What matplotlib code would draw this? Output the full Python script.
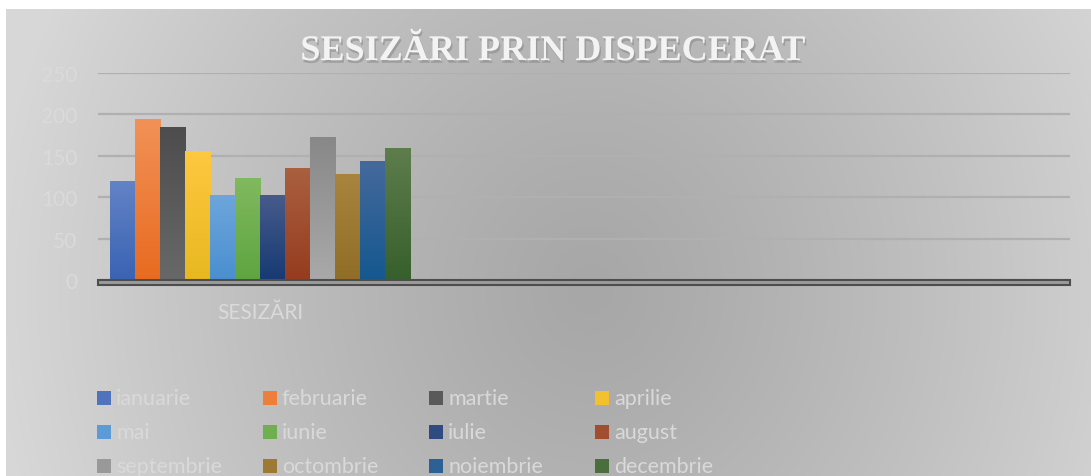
import numpy as np
import matplotlib
matplotlib.use("Agg")
import matplotlib.pyplot as plt
import matplotlib.patheffects as pe
from matplotlib.colors import LinearSegmentedColormap, to_rgb
from matplotlib.patches import Rectangle

# data
months = ["ianuarie", "februarie", "martie", "aprilie", "mai", "iunie",
          "iulie", "august", "septembrie", "octombrie", "noiembrie", "decembrie"]
values = [120, 194, 185, 156, 103, 123, 103, 135, 173, 128, 144, 160]
category = ["SESIZĂRI"]
title = "SESIZĂRI PRIN DISPECERAT"

# bar colours, top -> bottom of the gradient
top_colors = ["#6383c6", "#f29157", "#4d4d4d", "#fec840", "#6ea6dc", "#80b95f",
              "#475b8b", "#a9603f", "#888888", "#a8843e", "#46699c", "#5e7d4c"]
bot_colors = ["#3a63b3", "#e86b20", "#686868", "#e8b820", "#4a8fd0", "#5ea540",
              "#173a74", "#963c1f", "#a9a9a9", "#916e28", "#14588f", "#37602c"]

W, H = 1091, 477
fig = plt.figure(figsize=(W / 100, H / 100), dpi=100)
fig.patch.set_facecolor("white")

# background: radial grey gradient
bg = fig.add_axes([6 / W, 0, 1 - 6 / W, (H - 10) / H])
yy, xx = np.mgrid[10:H, 6:W]
r = np.sqrt(((xx - 590) / 600.0) ** 2 + ((yy - 290) / 650.0) ** 2)
shade = 0.655 + 0.19 * np.clip(r, 0, 1) ** 1.2
bg.imshow(np.dstack([shade] * 3), aspect="auto", interpolation="bilinear")
bg.axis("off")

# plot area
ax = fig.add_axes([98 / W, (H - 281) / H, 972 / W, 207 / H])
ax.patch.set_visible(False)

n = len(values)
group_width = 0.926
w = group_width / n
xs = [-group_width / 2 + w * (i + 0.5) for i in range(n)]
bars = ax.bar(xs, values, width=w, color=bot_colors, zorder=3, linewidth=0)

grad = np.linspace(0, 1, 64).reshape(-1, 1)
for rect, c_top, c_bot in zip(bars, top_colors, bot_colors):
    cmap = LinearSegmentedColormap.from_list("g", [c_bot, c_top])
    x0 = rect.get_x()
    im = ax.imshow(grad, extent=[x0, x0 + rect.get_width(), 0, rect.get_height()],
                   origin="lower", aspect="auto", cmap=cmap, zorder=4)
    im.set_clip_path(rect)

# floor under the bars
floor = ax.axhspan(-6, 0, facecolor="#9b9b9b", edgecolor="#4d4d4d", linewidth=1.5, zorder=5)
floor.set_clip_on(False)

ax.set_xlim(-0.5, 2.5)
ax.set_ylim(0, 250)
ax.set_yticks(range(0, 251, 50))
ax.yaxis.grid(True, color="#b0b0b0", linewidth=1.6, zorder=1)
ax.set_axisbelow(True)
for s in ax.spines.values():
    s.set_visible(False)

ax.set_xticks([0])
ax.set_xticklabels(category)
ax.tick_params(axis="both", length=0, labelcolor="#dadada", labelsize=15)
ax.tick_params(axis="y", pad=15)
ax.tick_params(axis="x", pad=16)
for lab in ax.get_xticklabels() + ax.get_yticklabels():
    lab.set_fontfamily("Lato")

# title
fig.text(553 / W, 1 - 61 / H, title, ha="center", va="baseline",
         fontfamily="Liberation Serif", fontweight="bold", fontsize=26,
         color="#f3f3f3",
         path_effects=[pe.withSimplePatchShadow(offset=(1, -2), shadow_rgbFace="#8a8a8a", alpha=0.6)])

# legend, 4 columns x 3 rows
for i, (name, c_top, c_bot) in enumerate(zip(months, top_colors, bot_colors)):
    row, col = divmod(i, 4)
    px = 97 + col * 166
    py = 399 + row * 34
    mid = tuple((np.array(to_rgb(c_top)) + np.array(to_rgb(c_bot))) / 2)
    fig.patches.append(Rectangle((px / W, 1 - (py + 7) / H), 14 / W, 14 / H,
                                 transform=fig.transFigure, facecolor=mid,
                                 edgecolor="none"))
    fig.text((px + 19) / W, 1 - py / H, name, ha="left", va="center",
             fontfamily="Lato", fontsize=15.5, color="#d9d9d9")

fig.savefig("out.png", dpi=100)
